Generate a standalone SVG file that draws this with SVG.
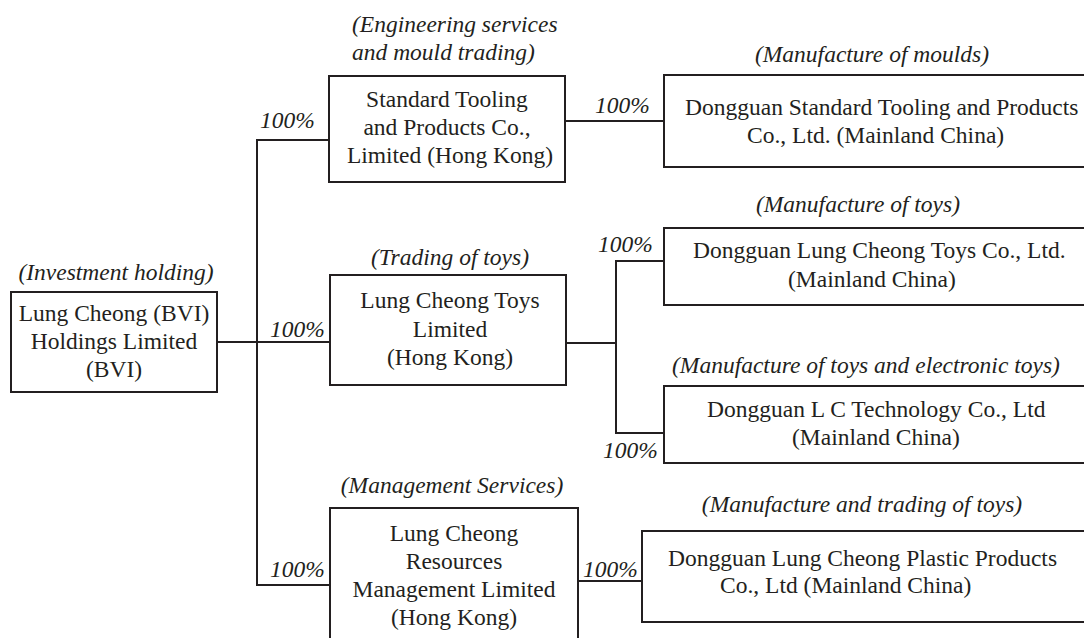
<svg xmlns="http://www.w3.org/2000/svg" width="1084" height="638" viewBox="0 0 1084 638">
  <style>
    text { font-family: "Liberation Serif", "Times New Roman", serif; font-size: 23.5px; fill: #231f20; }
    .it { font-style: italic; }
    .c { text-anchor: middle; }
    .box { fill: #ffffff; stroke: #231f20; stroke-width: 2; }
    .link { fill: none; stroke: #231f20; stroke-width: 2; }
  </style>
  <rect width="1084" height="638" fill="#ffffff"/>

  <!-- ownership lines -->
  <g id="connectors">
    <path class="link" d="M217,342 H330"/>
    <path class="link" d="M329,140 H257 V585 H330"/>
    <path class="link" d="M565,121 H664"/>
    <path class="link" d="M566,343 H616"/>
    <path class="link" d="M664,261 H616 V433 H664"/>
    <path class="link" d="M578,581 H642"/>
    <text class="it" x="260" y="128">100%</text>
    <text class="it" x="270" y="337">100%</text>
    <text class="it" x="270" y="577">100%</text>
    <text class="it" x="595" y="113">100%</text>
    <text class="it" x="598" y="252">100%</text>
    <text class="it" x="603" y="458">100%</text>
    <text class="it" x="583" y="577">100%</text>
  </g>

  <g id="node-bvi">
    <text class="it c" x="116" y="280">(Investment holding)</text>
    <rect class="box" x="11" y="292" width="206" height="100"/>
    <text class="c" x="114" y="321">Lung Cheong (BVI)</text>
    <text class="c" x="114" y="349">Holdings Limited</text>
    <text class="c" x="114" y="377">(BVI)</text>
  </g>

  <g id="node-standard-hk">
    <text class="it" x="352" y="32">(Engineering services</text>
    <text class="it" x="352" y="60">and mould trading)</text>
    <rect class="box" x="329" y="76" width="236" height="106"/>
    <text class="c" x="447" y="107">Standard Tooling</text>
    <text class="c" x="447" y="135">and Products Co.,</text>
    <text class="c" x="450" y="163">Limited (Hong Kong)</text>
  </g>

  <g id="node-standard-dg">
    <text class="it c" x="872" y="62">(Manufacture of moulds)</text>
    <rect class="box" x="664" y="75" width="430" height="92"/>
    <text x="685" y="115">Dongguan Standard Tooling and Products</text>
    <text x="747" y="143">Co., Ltd. (Mainland China)</text>
  </g>

  <g id="node-toys-hk">
    <text class="it c" x="450" y="265">(Trading of toys)</text>
    <rect class="box" x="330" y="275" width="236" height="110"/>
    <text class="c" x="450" y="308">Lung Cheong Toys</text>
    <text class="c" x="450" y="337">Limited</text>
    <text class="c" x="450" y="365">(Hong Kong)</text>
  </g>

  <g id="node-toys-dg">
    <text class="it c" x="858" y="212">(Manufacture of toys)</text>
    <rect class="box" x="664" y="228" width="430" height="77"/>
    <text x="693" y="258">Dongguan Lung Cheong Toys Co., Ltd.</text>
    <text x="788" y="287">(Mainland China)</text>
  </g>

  <g id="node-lc-tech">
    <text class="it" x="672" y="373">(Manufacture of toys and electronic toys)</text>
    <rect class="box" x="664" y="386" width="430" height="77"/>
    <text x="707" y="417">Dongguan L C Technology Co., Ltd</text>
    <text x="792" y="445">(Mainland China)</text>
  </g>

  <g id="node-resources">
    <text class="it c" x="452" y="493">(Management Services)</text>
    <rect class="box" x="330" y="508" width="248" height="140"/>
    <text class="c" x="454" y="541">Lung Cheong</text>
    <text class="c" x="454" y="569">Resources</text>
    <text class="c" x="454" y="597">Management Limited</text>
    <text class="c" x="454" y="625">(Hong Kong)</text>
  </g>

  <g id="node-plastic">
    <text class="it c" x="862" y="512">(Manufacture and trading of toys)</text>
    <rect class="box" x="642" y="531" width="452" height="91"/>
    <text x="668" y="566">Dongguan Lung Cheong Plastic Products</text>
    <text x="720" y="593">Co., Ltd (Mainland China)</text>
  </g>
</svg>
